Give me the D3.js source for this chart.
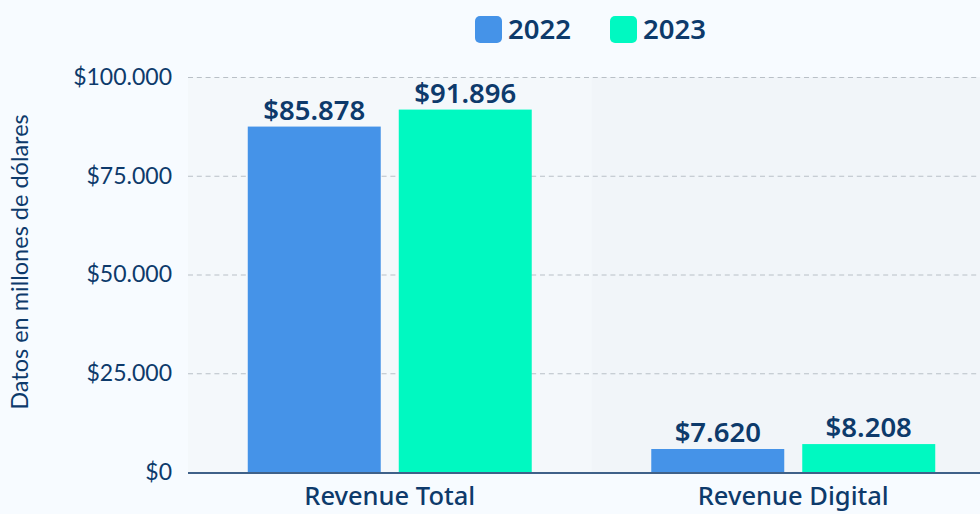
<!DOCTYPE html>
<html><head><meta charset="utf-8">
<script src="https://cdn.jsdelivr.net/npm/d3@7"></script>
<style>
html,body{margin:0;padding:0;background:#f7fbff;}
svg{display:block;}
</style></head>
<body><svg id="c" width="980" height="514"></svg>
<script>
const categories = ["Revenue Total", "Revenue Digital"];
const seriesNames = ["2022", "2023"];
// bar heights as drawn in the reference
const values2022 = [87450, 5820];
const values2023 = [91750, 7070];
// printed value labels
const valueLabels2022 = ["$85.878", "$7.620"];
const valueLabels2023 = ["$91.896", "$8.208"];
const yTicks = [0, 25000, 50000, 75000, 100000];
const tickLabels = ["$0", "$25.000", "$50.000", "$75.000", "$100.000"];
const colors = ["#4593e8", "#00f9c1"];
const yTitle = "Datos en millones de dólares";

const svg = d3.select("#c");
const W = 980, H = 514;
const plotLeft = 188, plotRight = 995, yTop = 77, yZero = 472;
const x0 = d3.scaleBand().domain(categories).range([plotLeft, plotRight]).paddingInner(0).paddingOuter(0);
const x1 = d3.scaleBand().domain(seriesNames).range([0, x0.bandwidth()]).paddingInner(0.1192).paddingOuter(0.3958);
const y = d3.scaleLinear().domain([0, 100000]).range([yZero, yTop]);

const bandFill = ["#f4f8fb", "#f1f5f9"];
svg.selectAll("rect.band").data(categories).join("rect")
  .attr("x", d => x0(d)).attr("width", x0.bandwidth())
  .attr("y", y(100000)).attr("height", y(0) - y(100000))
  .attr("fill", (d, i) => bandFill[i]);

// grid
svg.append("g").selectAll("line").data(yTicks.filter(t => t > 0)).join("line")
  .attr("x1", plotLeft).attr("x2", W)
  .attr("y1", d => y(d) + 0.5).attr("y2", d => y(d) + 0.5)
  .attr("stroke", "#b9c0c7").attr("stroke-width", 1).attr("stroke-dasharray", "5,3.8");

// y tick labels
const yAxis = d3.axisLeft(y).tickValues(yTicks).tickSize(0).tickPadding(16)
  .tickFormat((d, i) => tickLabels[i]);
const ya = svg.append("g").attr("transform", `translate(${plotLeft},0)`).call(yAxis);
ya.select(".domain").remove();
ya.selectAll("text").attr("font-family", "Lato, sans-serif").attr("font-size", 23).attr("fill", "#0d3a6b");

// y title
svg.append("text").attr("transform", `translate(28,${262}) rotate(-90)`)
  .attr("text-anchor", "middle").attr("font-family", "Lato, sans-serif").attr("font-size", 23.5)
  .attr("fill", "#0d3a6b").text(yTitle);

// bars
const data = categories.map((c, i) => ({c, vals: [values2022[i], values2023[i]], labs: [valueLabels2022[i], valueLabels2023[i]]}));
const g = svg.append("g");
data.forEach(d => {
  d.vals.forEach((v, j) => {
    const xx = x0(d.c) + x1(seriesNames[j]);
    g.append("rect").attr("x", xx).attr("width", x1.bandwidth())
      .attr("y", y(v)).attr("height", y(0) - y(v)).attr("fill", colors[j]);
    g.append("text").attr("x", xx + x1.bandwidth() / 2).attr("y", y(v) - 7)
      .attr("text-anchor", "middle").attr("font-family", "'Noto Sans', sans-serif")
      .attr("font-weight", 600).attr("font-size", 27.5).attr("fill", "#0d3a6b").text(d.labs[j]);
  });
});

// x axis
const xAxis = d3.axisBottom(x0).tickSize(0).tickPadding(15);
const xa = svg.append("g").attr("transform", `translate(0,${y(0)})`).call(xAxis);
xa.select(".domain").attr("stroke", "#3f6189").attr("stroke-width", 2).attr("d", `M${plotLeft},1H${W}`);
xa.selectAll("text").attr("font-family", "'Noto Sans', sans-serif").attr("font-weight", 500)
  .attr("font-size", 25.5).attr("fill", "#0d3a6b");

// legend
const lg = svg.append("g");
const lx = [475, 610];
seriesNames.forEach((s, i) => {
  lg.append("rect").attr("x", lx[i]).attr("y", 16).attr("width", 27).attr("height", 27).attr("rx", 5)
    .attr("fill", colors[i]);
  lg.append("text").attr("x", lx[i] + 33).attr("y", 39).attr("font-family", "'Noto Sans', sans-serif")
    .attr("font-weight", 600).attr("font-size", 27.5).attr("fill", "#0d3a6b").text(s);
});
</script></body></html>
